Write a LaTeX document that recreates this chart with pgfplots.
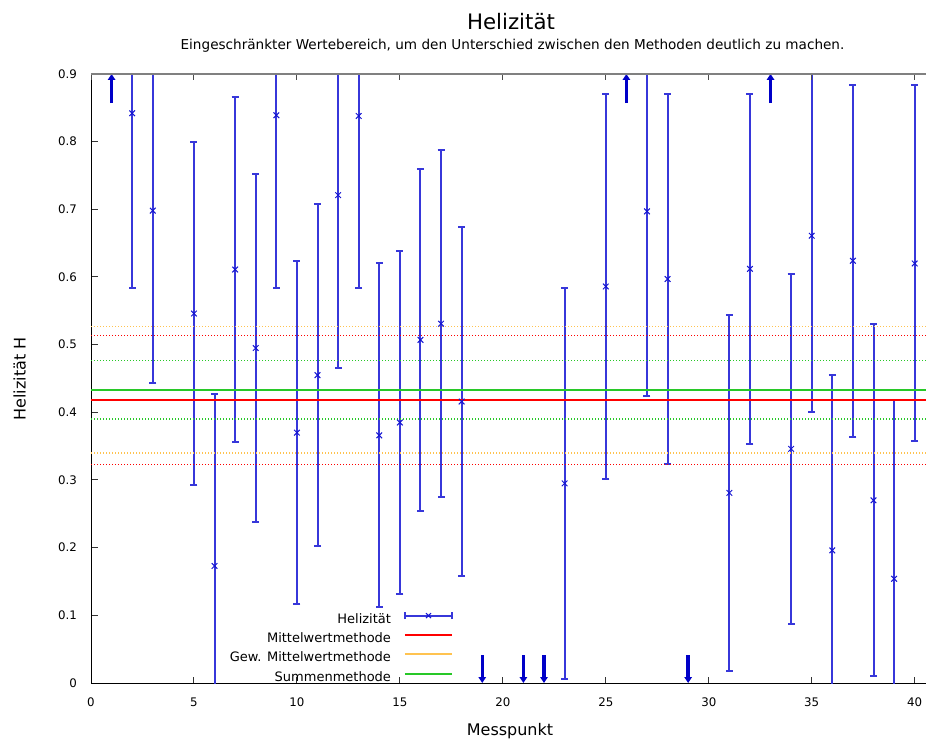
\documentclass[border=0pt]{standalone}
\usepackage{pgfplots}
\pgfplotsset{compat=1.18}
\usepackage{pgfplotstable}
\usepackage{fontspec}
\setmainfont{DejaVu Sans}
\usetikzlibrary{arrows.meta}
\definecolor{barblue}{RGB}{55,55,218}
\definecolor{markblue}{RGB}{20,20,210}
\definecolor{arrblue}{RGB}{0,0,200}
\definecolor{mred}{RGB}{255,0,0}
\definecolor{myel}{RGB}{255,195,80}
\definecolor{mgreen}{RGB}{40,200,40}
\definecolor{topgray}{RGB}{128,128,128}

\pgfplotstableread{
x y e
2 0.842 0.258
3 0.698 0.255
5 0.546 0.254
6 0.173 0.254
7 0.611 0.255
8 0.495 0.257
9 0.839 0.255
10 0.370 0.253
11 0.455 0.253
12 0.721 0.255
13 0.838 0.254
14 0.366 0.254
15 0.385 0.254
16 0.507 0.253
17 0.531 0.256
18 0.416 0.258
23 0.295 0.289
25 0.586 0.284
27 0.697 0.273
28 0.597 0.273
31 0.281 0.263
32 0.612 0.259
34 0.346 0.259
35 0.661 0.261
36 0.196 0.259
37 0.624 0.260
38 0.270 0.260
39 0.154 0.264
40 0.620 0.263
}\helizitaet

\pgfplotstableread{
x y u v
1 0.857 0 0.043
26 0.857 0 0.043
33 0.857 0 0.043
19 0.041 0 -0.041
21 0.041 0 -0.041
22 0.041 0 -0.041
29 0.041 0 -0.041
}\pfeile

\begin{document}
\begin{tikzpicture}
\useasboundingbox (-91pt,-59pt) rectangle (835pt,683pt);
\begin{axis}[
  width=835pt, height=609pt, scale only axis,
  xmin=0, xmax=40.55, ymin=0, ymax=0.9,
  axis x line*=bottom, axis y line*=left,
  axis line style={black, line width=1pt},
  xtick={0,5,10,15,20,25,30,35,40},
  ytick={0,0.1,0.2,0.3,0.4,0.5,0.6,0.7,0.8,0.9},
  tick align=inside, major tick length=6.5pt,
  tick style={black!80, line width=1pt},
  /pgf/number format/assume math mode=true,
  /pgf/number format/.cd, fixed, precision=1, /pgfplots/.cd,
  ticklabel style={font=\fontsize{11.8}{14}\selectfont},
  xticklabel style={yshift=-11pt},
  yticklabel style={xshift=-10.5pt},
  legend style={at={(0.4335,0)}, anchor=south east, draw=none, fill=none,
    font=\fontsize{13}{15}\selectfont, inner sep=0pt, outer sep=0pt,
    row sep=7.3pt, column sep=13pt,
    nodes={inner sep=0pt, text height=10pt, text depth=2pt}},
  legend cell align=right, legend plot pos=right,
]
\addlegendimage{legend image code/.code={
    \draw[barblue, line width=2pt] (0pt,3.5pt) -- (47pt,3.5pt) (0pt,0pt) -- (0pt,7pt) (47pt,0pt) -- (47pt,7pt);
    \draw[markblue, line width=1pt] plot[only marks, mark=x, mark size=3.5pt] coordinates {(23.5pt,3.5pt)};}}
\addlegendentry{Helizität}
\addlegendimage{legend image code/.code={\draw[mred, line width=2pt] (0pt,3.5pt) -- (47pt,3.5pt);}}
\addlegendentry{Mittelwertmethode}
\addlegendimage{legend image code/.code={\draw[myel, line width=2pt] (0pt,3.5pt) -- (47pt,3.5pt);}}
\addlegendentry{Gew. Mittelwertmethode}
\addlegendimage{legend image code/.code={\draw[mgreen, line width=2pt] (0pt,3.5pt) -- (47pt,3.5pt);}}
\addlegendentry{Summenmethode}

\addplot[draw=markblue, color=markblue, only marks, mark=x, mark size=4pt, mark options={line width=1pt, draw=markblue}, forget plot,
  error bars/.cd, y dir=both, y explicit, error mark=|,
  error bar style={line width=2pt, draw=barblue, color=barblue},
  error mark options={line width=2pt, mark size=3.5pt, draw=barblue, color=barblue}
] table[x=x, y=y, y error=e] {\helizitaet};

\addplot[arrblue, line width=3.5pt, quiver={u=\thisrow{u}, v=\thisrow{v}},
  -{Triangle[length=6pt,width=7.5pt]}, forget plot] table[x=x,y=y] {\pfeile};

\addplot[mred, line width=2pt, forget plot] coordinates {(0,0.4186) (40.55,0.4186)};
\addplot[myel, line width=2pt, forget plot] coordinates {(0,0.4335) (40.55,0.4335)};
\addplot[mgreen, line width=2.2pt, forget plot] coordinates {(0,0.4335) (40.55,0.4335)};

\addplot[mred, line width=1.3pt, dash pattern=on 1pt off 2pt, forget plot] coordinates {(0,0.323) (40.55,0.323)};
\addplot[mred, line width=1.3pt, dash pattern=on 1pt off 2pt, forget plot] coordinates {(0,0.514) (40.55,0.514)};
\addplot[myel, line width=1.3pt, dash pattern=on 1pt off 2pt, forget plot] coordinates {(0,0.340) (40.55,0.340)};
\addplot[myel, line width=1.3pt, dash pattern=on 1pt off 2pt, forget plot] coordinates {(0,0.527) (40.55,0.527)};
\addplot[mgreen, line width=1.3pt, dash pattern=on 1pt off 2pt, forget plot] coordinates {(0,0.390) (40.55,0.390)};
\addplot[mgreen, line width=1.3pt, dash pattern=on 1pt off 2pt, forget plot] coordinates {(0,0.477) (40.55,0.477)};
\end{axis}
\begin{axis}[
  width=835pt, height=609pt, scale only axis,
  xmin=0, xmax=40.55, ymin=0, ymax=0.9,
  axis x line*=top, axis y line=none,
  x axis line style={draw=none},
  xtick={0,5,10,15,20,25,30,35,40}, xticklabels={},
  tick align=inside, major tick length=6.5pt,
  tick style={black!70, line width=1pt},
]
\end{axis}
\draw[topgray, line width=2.5pt] (0pt,609pt) -- (835pt,609pt);
\node[font=\fontsize{21.3}{25}\selectfont, anchor=base] at (420pt,653pt) {Helizität};
\node[font=\fontsize{13.6}{16}\selectfont, anchor=base] at (421.5pt,633.7pt) {Eingeschränkter Wertebereich, um den Unterschied zwischen den Methoden deutlich zu machen.};
\node[font=\fontsize{16}{19}\selectfont, anchor=base] at (419pt,-52pt) {Messpunkt};
\node[font=\fontsize{16}{19}\selectfont, anchor=base, rotate=90] at (-65.3pt,304pt) {Helizität H};
\end{tikzpicture}
\end{document}
